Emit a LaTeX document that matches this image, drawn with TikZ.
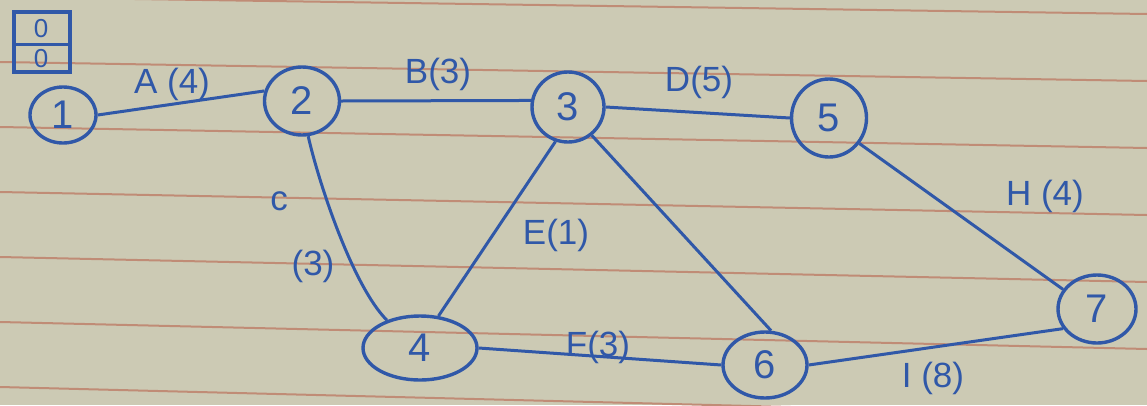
\documentclass[tikz,border=0pt]{standalone}
\usepackage{fontspec}
\setmainfont{Liberation Sans}
\usetikzlibrary{shapes.geometric}
\definecolor{paper}{RGB}{204,202,180}
\definecolor{rule}{RGB}{192,140,118}
\definecolor{ink}{RGB}{48,88,168}
\tikzset{
  vtx/.style={ellipse, draw=ink, line width=3.4pt, inner sep=0pt, text=ink,
    font=\fontsize{40}{42}\selectfont},
  edge/.style={draw=ink, line width=3pt},
  lbl/.style={text=ink, inner sep=0pt, font=\fontsize{35}{37}\selectfont},
  ruling/.style={draw=rule, line width=2pt}
}
\begin{document}
\begin{tikzpicture}[x=1pt,y=-1pt]
\fill[paper] (0,0) rectangle (1147,405);
\useasboundingbox (0,0) rectangle (1147,405);
% ruled lines (slightly sloping)
\foreach \k in {-1,0,...,5}{
  \draw[ruling] (0,{62+65*\k}) -- (1147,{81+67*\k});
}
% small box
\draw[ink, line width=3.4pt] (14,12) rectangle (70,72);
\draw[ink, line width=3pt] (14,44) -- (70,44);
\node[lbl, font=\fontsize{26}{28}\selectfont] (b1) at (41,29) {0};
\node[lbl, font=\fontsize{26}{28}\selectfont] (b2) at (41,59) {0};
% vertices
\node[vtx, minimum width=66pt, minimum height=56pt] (n1) at (63,115) {1};
\node[vtx, minimum width=75pt, minimum height=68pt] (n2) at (302,101) {2};
\node[vtx, minimum width=72pt, minimum height=70pt] (n3) at (568,107) {3};
\node[vtx, minimum width=75pt, minimum height=78pt] (n5) at (829,118) {5};
\node[vtx, minimum width=114pt, minimum height=64pt] (n4) at (420,348) {4};
\node[vtx, minimum width=84pt, minimum height=66pt] (n6) at (765,365) {6};
\node[vtx, minimum width=78pt, minimum height=68pt] (n7) at (1097,309) {7};
% edges
\draw[edge] (n1.east) -- (n2.165);
\draw[edge] (n2.east) -- (n3.170);
\draw[edge] (n3.east) -- (n5.180);
\draw[edge] (n2.-80) .. controls (318,180) and (352,285) .. (n4.140);
\draw[edge] (n3.-110) -- (n4.60);
\draw[edge] (n3.-50) -- (n6.80);
\draw[edge] (n4.east) -- (n6.west);
\draw[edge] (n5.-40) -- (n7.150);
\draw[edge] (n6.east) -- (n7.-150);
% labels
\node[lbl] (la) at (172,84) {A (4)};
\node[lbl] (lb) at (438,74) {B(3)};
\node[lbl] (ld) at (699,82) {D(5)};
\node[lbl] (lc) at (279,201) {c};
\node[lbl] (lc3) at (313,266) {(3)};
\node[lbl] (le) at (556,235) {E(1)};
\node[lbl] (lf) at (598,347) {F(3)};
\node[lbl] (lh) at (1045,196) {H (4)};
\node[lbl] (li) at (933,378) {I (8)};
\end{tikzpicture}
\end{document}
